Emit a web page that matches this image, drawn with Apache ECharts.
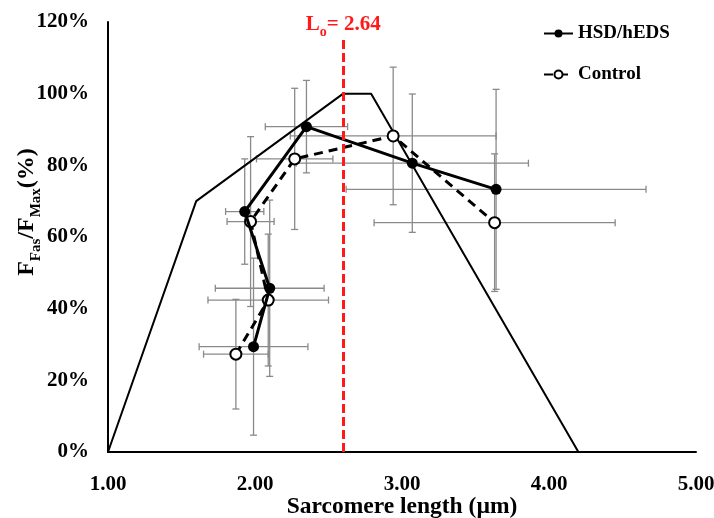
<!DOCTYPE html>
<html>
<head>
<meta charset="utf-8">
<title>Force-length</title>
<script src="https://cdn.jsdelivr.net/npm/echarts@6/dist/echarts.min.js"></script>
<style>
    html, body { margin: 0; padding: 0; background: #fff; }
    #chart { width: 714px; height: 518px; }
</style>
</head>
<body>
<div id="chart"></div>
<script>
    // HSD/hEDS group, in the order the line joins them
    var hsdX = [1.99, 2.10, 1.93, 2.35, 3.07, 3.64];
    var hsdY = [29.4, 45.7, 67.1, 90.8, 80.6, 73.3];
    var hsdXErr = [0.37, 0.37, 0.13, 0.28, 0.79, 1.02];
    var hsdYErr = [24.7, 24.6, 14.7, 12.9, 19.3, 27.9];
    // control group
    var ctrlX = [1.87, 2.09, 1.97, 2.27, 2.94, 3.63];
    var ctrlY = [27.3, 42.4, 64.3, 81.8, 88.2, 64.0];
    var ctrlXErr = [0.22, 0.41, 0.16, 0.26, 0.70, 0.82];
    var ctrlYErr = [15.3, 18.4, 23.7, 19.7, 19.2, 19.2];
    // theoretical force-length curve
    var curveX = [1.00, 1.60, 2.60, 2.79, 4.20];
    var curveY = [0, 70, 100, 100, 0];
    // optimal length marker
    var loX = 2.60, loTop = 116, loLabel = '2.64';

    function zip(a, b) {
        var out = [];
        for (var i = 0; i < a.length; i++) out.push([a[i], b[i]]);
        return out;
    }
    function errData(x, y, ex, ey) {
        var out = [];
        for (var i = 0; i < x.length; i++) out.push([x[i], y[i], ex[i], ey[i]]);
        return out;
    }

    function errRender(params, api) {
        var x = api.value(0), y = api.value(1), ex = api.value(2), ey = api.value(3);
        var l = api.coord([x - ex, y]), r = api.coord([x + ex, y]);
        var t = api.coord([x, y + ey]), b = api.coord([x, y - ey]);
        var c = 3.5;
        var st = { stroke: '#8a8a8a', lineWidth: 1.3 };
        function ln(x1, y1, x2, y2) {
            return { type: 'line', shape: { x1: x1, y1: y1, x2: x2, y2: y2 }, style: st };
        }
        return {
            type: 'group',
            children: [
                ln(l[0], l[1], r[0], r[1]),
                ln(l[0], l[1] - c, l[0], l[1] + c),
                ln(r[0], r[1] - c, r[0], r[1] + c),
                ln(t[0], t[1], b[0], b[1]),
                ln(t[0] - c, t[1], t[0] + c, t[1]),
                ln(b[0] - c, b[1], b[0] + c, b[1])
            ]
        };
    }

    var font = 'Liberation Serif';
    var chart = echarts.init(document.getElementById('chart'));
    var option = {
        animation: false,
        textStyle: { fontFamily: font },
        grid: { left: 108, right: 18, top: 22, bottom: 66, containLabel: false, outerBoundsMode: 'none' },
        legend: {
            orient: 'vertical',
            left: 538,
            top: 19,
            itemGap: 22,
            itemWidth: 29,
            itemHeight: 10,
            data: ['HSD/hEDS', 'Control'],
            textStyle: { fontFamily: font, fontWeight: 'bold', fontSize: 19, color: '#000' }
        },
        xAxis: {
            type: 'value',
            min: 1,
            max: 5,
            interval: 1,
            name: 'Sarcomere length (µm)',
            nameLocation: 'middle',
            nameGap: 43,
            nameMoveOverlap: false,
            nameTextStyle: { fontFamily: font, fontWeight: 'bold', fontSize: 23.5, color: '#000' },
            axisLine: { lineStyle: { color: '#000', width: 2 } },
            axisTick: { show: false },
            splitLine: { show: false },
            axisLabel: {
                margin: 22,
                fontFamily: font, fontWeight: 'bold', fontSize: 21, color: '#000',
                formatter: function (v) { return v.toFixed(2); }
            }
        },
        yAxis: {
            type: 'value',
            min: 0,
            max: 120,
            interval: 20,
            name: '{b|F}{s|Fas}{b|/F}{s|Max}{b|(%)}',
            nameLocation: 'middle',
            nameGap: 69,
            nameMoveOverlap: false,
            nameRotate: 90,
            nameTextStyle: {
                padding: [0, 0, 0, 50],
                rich: {
                    b: { fontFamily: font, fontWeight: 'bold', fontSize: 24, color: '#000', lineHeight: 30, verticalAlign: 'bottom' },
                    s: { fontFamily: font, fontWeight: 'bold', fontSize: 15, color: '#000', lineHeight: 30, verticalAlign: 'bottom', padding: [0, 0, -5, 0] }
                }
            },
            axisLine: { lineStyle: { color: '#000', width: 2 } },
            axisTick: { show: false },
            splitLine: { show: false },
            axisLabel: {
                margin: 19,
                fontFamily: font, fontWeight: 'bold', fontSize: 21, color: '#000',
                formatter: '{value}%'
            }
        },
        series: [
            {
                type: 'custom',
                name: 'errHSD',
                renderItem: errRender,
                encode: { x: 0, y: 1 },
                data: errData(hsdX, hsdY, hsdXErr, hsdYErr),
                z: 1
            },
            {
                type: 'custom',
                name: 'errCtrl',
                renderItem: errRender,
                encode: { x: 0, y: 1 },
                data: errData(ctrlX, ctrlY, ctrlXErr, ctrlYErr),
                z: 1
            },
            {
                type: 'line',
                name: 'curve',
                data: zip(curveX, curveY),
                symbol: 'none',
                lineStyle: { color: '#000', width: 2 },
                z: 2,
                markLine: {
                    silent: true,
                    symbol: 'none',
                    lineStyle: { color: '#ff1a1a', width: 3, type: [9, 4] },
                    label: {
                        position: 'end',
                        distance: 1,
                        formatter: '{b|L}{s|o}{b|= ' + loLabel + '}',
                        rich: {
                            b: { fontFamily: font, fontWeight: 'bold', fontSize: 21, color: '#ff1a1a', lineHeight: 24, verticalAlign: 'bottom' },
                            s: { fontFamily: font, fontWeight: 'bold', fontSize: 14, color: '#ff1a1a', lineHeight: 24, verticalAlign: 'bottom', padding: [0, 0, -4, 0] }
                        }
                    },
                    data: [[{ coord: [loX, 0] }, { coord: [loX, loTop] }]]
                }
            },
            {
                type: 'line',
                name: 'Control',
                data: zip(ctrlX, ctrlY),
                symbol: 'circle',
                symbolSize: 11,
                itemStyle: { color: '#fff', borderColor: '#000', borderWidth: 2 },
                lineStyle: { color: '#000', width: 3, type: [9, 6] },
                z: 3
            },
            {
                type: 'line',
                name: 'HSD/hEDS',
                data: zip(hsdX, hsdY),
                symbol: 'circle',
                symbolSize: 11,
                itemStyle: { color: '#000' },
                lineStyle: { color: '#000', width: 3 },
                z: 4
            }
        ]
    };
    chart.setOption(option);
</script>
</body>
</html>
